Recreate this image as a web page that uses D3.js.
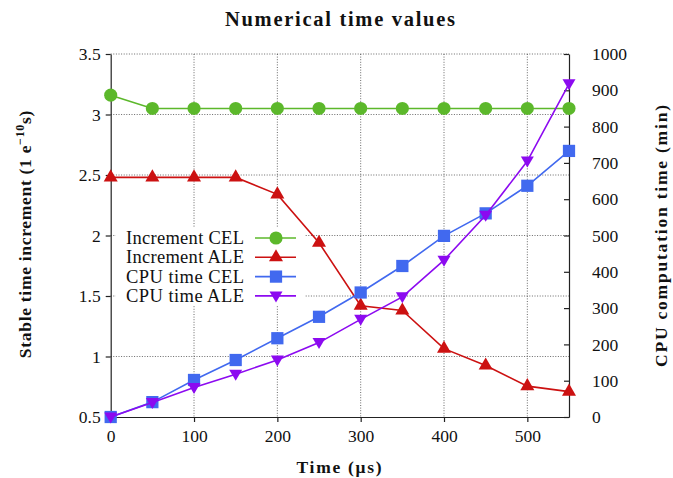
<!DOCTYPE html>
<html>
<head>
<meta charset="utf-8">
<script src="https://cdn.jsdelivr.net/npm/d3@7"></script>
<style>
  body { margin: 0; background: #fff; }
  svg { display: block; }
  text { font-family: "Liberation Serif", "DejaVu Serif", serif; fill: #111; }
</style>
</head>
<body>
<svg id="chart" width="673" height="478"></svg>
<script>
// data
var times = [0, 50, 100, 150, 200, 250, 300, 350, 400, 450, 500, 550];
var incrementCEL = [3.16, 3.05, 3.05, 3.05, 3.05, 3.05, 3.05, 3.05, 3.05, 3.05, 3.05, 3.05];
var incrementALE = [2.48, 2.48, 2.48, 2.48, 2.34, 1.94, 1.42, 1.38, 1.065, 0.925, 0.755, 0.71];
var cpuCEL = [0, 41, 102, 157, 217, 276, 343, 416, 499, 561, 637, 733];
var cpuALE = [0, 40, 81, 118, 157, 205, 269, 331, 432, 556, 705, 918];
var xTicks = [0, 100, 200, 300, 400, 500];
var leftTicks = [0.5, 1, 1.5, 2, 2.5, 3, 3.5];
var rightTicks = [0, 100, 200, 300, 400, 500, 600, 700, 800, 900, 1000];

var series = [
    {name: "Increment CEL", values: incrementCEL, axis: "left", color: "#5cb82b", marker: "circle"},
    {name: "Increment ALE", values: incrementALE, axis: "left", color: "#cc1111", marker: "triangle"},
    {name: "CPU time CEL", values: cpuCEL, axis: "right", color: "#4169ef", marker: "square"},
    {name: "CPU time ALE", values: cpuALE, axis: "right", color: "#8c0af0", marker: "triangleDown"}
];

var svg = d3.select("#chart");
// plot box (window.top is taken, so prefixed names)
var pLeft = 110.7, pRight = 569, pTop = 54, pBottom = 417;

var x = d3.scaleLinear().domain([0, 550]).range([pLeft, pRight]);
var yL = d3.scaleLinear().domain([0.5, 3.5]).range([pBottom, pTop]);
var yR = d3.scaleLinear().domain([0, 1000]).range([pBottom, pTop]);

// marker shapes
var symbolFor = function (m) {
    if (m == "circle") return d3.symbol(d3.symbolCircle, 135)();
    if (m == "square") return d3.symbol(d3.symbolSquare, 150)();
    if (m == "triangle") return d3.symbol(d3.symbolTriangle, 85)();
    return "M-6.5,-4.5L6.5,-4.5L0,6.5Z"; // pointing down
};

// grid
var grid = svg.append("g").attr("stroke", "#444").attr("stroke-width", 0.8)
    .attr("stroke-dasharray", "1,1.6");
grid.selectAll(".vg").data(xTicks.filter(d => d > 0)).join("line")
    .attr("x1", d => x(d)).attr("x2", d => x(d)).attr("y1", pTop).attr("y2", pBottom);
grid.selectAll(".hg").data(leftTicks.filter(d => d > 0.5)).join("line")
    .attr("x1", pLeft).attr("x2", pRight).attr("y1", d => yL(d)).attr("y2", d => yL(d));

// axes
var styleAxis = function (g) {
    g.attr("font-family", '"Liberation Serif", serif').attr("font-size", 17);
    g.selectAll("text").style("font-family", '"Liberation Serif", serif')
        .style("font-size", "17.5px").attr("fill", "#111");
    g.selectAll("path, line").attr("stroke", "#222").attr("stroke-width", 1.2);
};
svg.append("g").attr("transform", "translate(0," + pBottom + ")")
    .call(d3.axisBottom(x).tickValues(xTicks).tickSizeInner(5).tickSizeOuter(0).tickPadding(8))
    .call(styleAxis);
svg.append("g").attr("transform", "translate(" + pLeft + ",0)")
    .call(d3.axisLeft(yL).tickValues(leftTicks).tickFormat(d3.format("")).tickSizeInner(5).tickSizeOuter(0).tickPadding(5))
    .call(styleAxis);
svg.append("g").attr("transform", "translate(" + pRight + ",0)")
    .call(d3.axisRight(yR).tickValues(rightTicks).tickFormat(d3.format("d"))
        .tickSizeInner(-5).tickSizeOuter(0).tickPadding(23))
    .call(styleAxis);

// lines and markers
series.forEach(function (s) {
    var y = s.axis == "left" ? yL : yR;
    var line = d3.line().x((d, i) => x(times[i])).y(d => y(d));
    var g = svg.append("g");
    g.append("path").datum(s.values).attr("d", line)
        .attr("fill", "none").attr("stroke", s.color).attr("stroke-width", 1.6);
    g.selectAll("path.m").data(s.values).join("path").attr("class", "m")
        .attr("d", symbolFor(s.marker))
        .attr("transform", (d, i) => "translate(" + x(times[i]) + "," + y(d) + ")")
        .attr("fill", s.color);
});

// legend
var legend = svg.append("g");
legend.append("rect").attr("x", 116).attr("y", 228).attr("width", 189).attr("height", 77)
    .attr("fill", "#fff");
series.forEach(function (s, i) {
    var ly = 238 + i * 19.3;
    legend.append("text").attr("x", 244).attr("y", ly + 6)
        .attr("text-anchor", "end").style("font-size", "18.5px")
        .attr("textLength", 118).attr("lengthAdjust", "spacing").text(s.name);
    legend.append("line").attr("x1", 255).attr("x2", 296).attr("y1", ly).attr("y2", ly)
        .attr("stroke", s.color).attr("stroke-width", 1.6);
    legend.append("path").attr("d", symbolFor(s.marker))
        .attr("transform", "translate(276," + ly + ")").attr("fill", s.color);
});

// titles
svg.append("text").attr("x", 340).attr("y", 26).attr("text-anchor", "middle")
    .style("font-size", "20.5px").style("font-weight", "bold")
    .attr("textLength", 230).attr("lengthAdjust", "spacing").text("Numerical time values");
svg.append("text").attr("x", 339).attr("y", 473).attr("text-anchor", "middle")
    .style("font-size", "17.5px").style("font-weight", "bold")
    .attr("textLength", 85).attr("lengthAdjust", "spacing").text("Time (μs)");

var yl = svg.append("text").attr("transform", "translate(31,234) rotate(-90)")
    .attr("text-anchor", "middle").style("font-size", "17.5px").style("font-weight", "bold")
    .style("letter-spacing", "0.7px");
yl.append("tspan").text("Stable time increment (1 e");
yl.append("tspan").attr("dy", -7).style("font-size", "12px").text("−10");
yl.append("tspan").attr("dy", 7).text("s)");

svg.append("text").attr("transform", "translate(667,236) rotate(-90)")
    .attr("text-anchor", "middle").style("font-size", "17.5px").style("font-weight", "bold")
    .attr("textLength", 262).attr("lengthAdjust", "spacing")
    .text("CPU computation time (min)");
</script>
</body>
</html>
